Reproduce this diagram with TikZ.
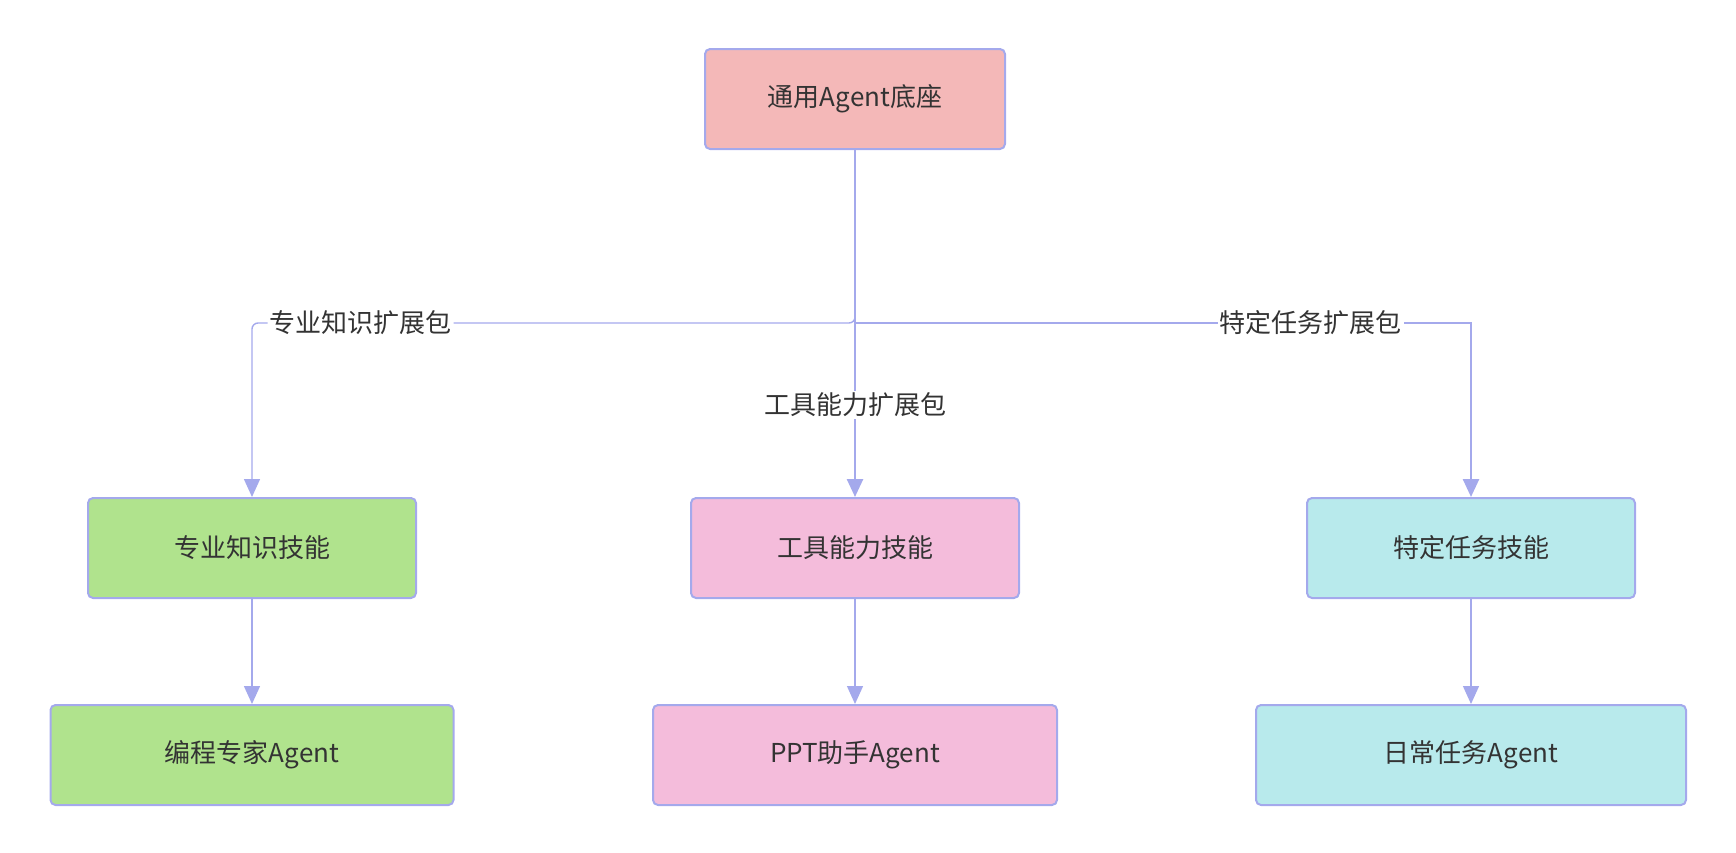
\documentclass[tikz,border=0pt]{standalone}
\usepackage{fontspec}
\setmainfont{Noto Sans CJK SC}
\usepackage{xcolor}
\usetikzlibrary{positioning,arrows.meta}
\definecolor{cedge}{HTML}{A4A9EC}
\definecolor{ctext}{HTML}{333333}
\definecolor{cbase}{HTML}{F4B8B8}
\definecolor{cknow}{HTML}{B0E38D}
\definecolor{ctool}{HTML}{F4BCDB}
\definecolor{ctask}{HTML}{B8EAEC}

\begin{document}
\begin{tikzpicture}[x=0.5pt,y=-0.5pt,
  font=\fontsize{13pt}{16pt}\selectfont,text=ctext,
  box/.style={draw=cedge,line width=1pt,rounded corners=2.5pt,minimum height=50pt,inner sep=0pt},
  flow/.style={-{Triangle[length=9pt,width=8pt]},cedge,line width=0.7pt},
  heavy/.style={line width=1.3pt},
  ann/.style={fill=white,text=ctext,inner sep=1pt},
]
\useasboundingbox (0,0) rectangle (1736,852);
\node[box,fill=cbase,minimum width=150pt] (base) at (855,99) {通用Agent底座};
\node[box,fill=cknow,minimum width=164pt] (know) at (252,548) {专业知识技能};
\node[box,fill=ctool,minimum width=164pt] (tool) at (855,548) {工具能力技能};
\node[box,fill=ctask,minimum width=164pt] (task) at (1471,548) {特定任务技能};
\node[box,fill=cknow,minimum width=201.5pt,below=52.5pt of know] (coder) {编程专家Agent};
\node[box,fill=ctool,minimum width=202pt,below=52.5pt of tool] (ppt) {PPT助手Agent};
\node[box,fill=ctask,minimum width=215pt,below=52.5pt of task] (daily) {日常任务Agent};
\coordinate (split) at (855,323);
\draw[flow,rounded corners=3pt] (base.south) -- (split) -| node[ann,pos=0.41]{专业知识扩展包} (know.north);
\draw[flow,heavy] (base.south) -- node[ann,pos=0.735]{工具能力扩展包} (tool.north);
\draw[flow,heavy] (split) -| node[ann,pos=0.37]{特定任务扩展包} (task.north);
\draw[flow] (know) -- (coder);
\draw[flow] (tool) -- (ppt);
\draw[flow] (task) -- (daily);
\end{tikzpicture}
\end{document}
